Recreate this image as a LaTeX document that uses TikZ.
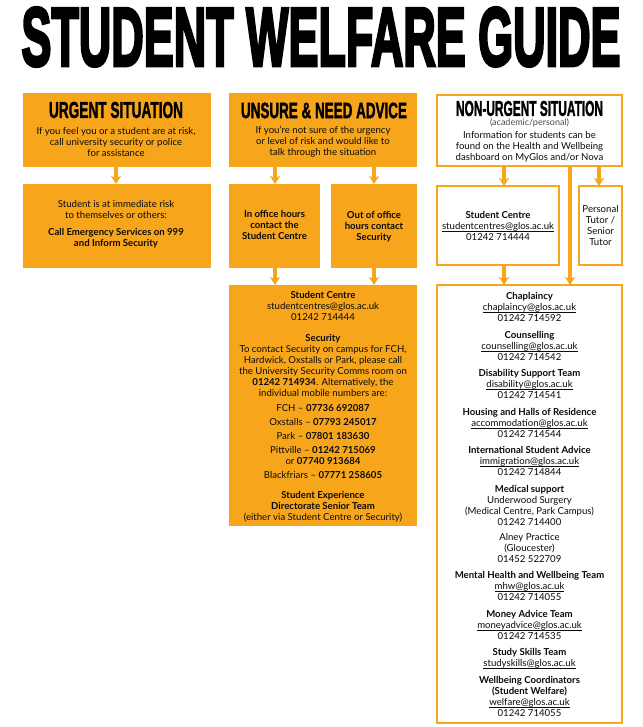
\documentclass[tikz,border=0pt]{standalone}
\usepackage{fontspec}
\usepackage{graphicx}
\setmainfont{Lato}
\newfontfamily\headfont{Liberation Sans}[BoldFeatures={FakeBold=2}]
\newfontfamily\titlefont{Liberation Sans}[BoldFeatures={FakeBold=4}]
\usetikzlibrary{arrows.meta}
\definecolor{wgorange}{RGB}{247,166,28}
\definecolor{wgtext}{RGB}{10,10,10}
\newcommand{\ulmail}[1]{\setbox0\hbox{#1}\rlap{\rule[-2.2pt]{\wd0}{0.6pt}}\box0}
\newcommand{\headtxt}[3]{\resizebox{#1}{#2}{\headfont\bfseries #3}}
\tikzset{
  fillbox/.style={fill=wgorange, draw=none, inner sep=0pt, outer sep=0pt},
  linebox/.style={draw=wgorange, line width=1.6pt, fill=white, inner sep=0pt, outer sep=0pt},
  flow/.style={draw=wgorange, line width=3.6pt, -{Stealth[length=8pt,width=10pt,inset=2pt]}},
  body/.style={text=wgtext, inner sep=0pt, align=center, font=\fontsize{9.6}{11}\selectfont},
  small/.style={text=black!70, inner sep=0pt, align=center, font=\fontsize{9}{9}\selectfont},
  head/.style={text=black, inner sep=0pt, outer sep=0pt},
}
\begin{document}
\lineskiplimit=-20pt\relax
\begin{tikzpicture}[x=1pt,y=-1pt]
\useasboundingbox (0,0) rectangle (642,727);
\fill[white] (0,0) rectangle (642,727);

% title
\node[head] (title) at (321,37) {\resizebox{599pt}{58pt}{\titlefont\bfseries STUDENT WELFARE GUIDE}};

% boxes
\node[fillbox, minimum width=188pt, minimum height=74pt] (urgHead) at (117,130) {};
\node[fillbox, minimum width=188pt, minimum height=84pt] (urgBox) at (117,226) {};
\node[fillbox, minimum width=188pt, minimum height=74pt] (unsHead) at (323,130) {};
\node[fillbox, minimum width=91pt, minimum height=84pt] (inOff) at (274.5,226) {};
\node[fillbox, minimum width=86pt, minimum height=84pt] (outOff) at (374,226) {};
\node[fillbox, minimum width=188pt, minimum height=241pt] (col2Bot) at (323,405.5) {};
\node[linebox, minimum width=185pt, minimum height=71pt] (nonHead) at (529.5,130.5) {};
\node[linebox, minimum width=122pt, minimum height=79pt] (scBox) at (498,225.5) {};
\node[linebox, minimum width=43pt, minimum height=79pt] (ptBox) at (600.5,225.5) {};
\node[linebox, minimum width=185pt, minimum height=438pt] (rightBot) at (529.5,504) {};

% connectors
\coordinate (xa) at (116,0);
\coordinate (xb) at (275,0);
\coordinate (xc) at (374,0);
\coordinate (xd) at (504,0);
\coordinate (xe) at (570,0);
\coordinate (xf) at (599,0);
\draw[flow] (urgHead.south -| xa) -- (urgBox.north -| xa);
\draw[flow] (unsHead.south -| xb) -- (inOff.north -| xb);
\draw[flow] (unsHead.south -| xc) -- (outOff.north -| xc);
\draw[flow] (inOff.south -| xb) -- (col2Bot.north -| xb);
\draw[flow] (outOff.south -| xc) -- (col2Bot.north -| xc);
\draw[flow] (nonHead.south -| xd) -- (scBox.north -| xd);
\draw[flow] (nonHead.south -| xf) -- (ptBox.north -| xf);
\draw[flow] (nonHead.south -| xe) -- (rightBot.north -| xe);
\draw[flow] (scBox.south -| xd) -- (rightBot.north -| xd);

% headings
\node[head] (urgTitle) at (116,110) {\headtxt{134pt}{16pt}{URGENT SITUATION}};
\node[head] (unsTitle) at (324,110.5) {\headtxt{166pt}{15.5pt}{UNSURE \& NEED ADVICE}};
\node[head] (nonTitle) at (529.5,108.5) {\headtxt{147pt}{15pt}{NON-URGENT SITUATION}};

% subtitles
\node[body, anchor=north] (urgSub) at (116,127.5) {If you feel you or a student are at risk,\\ call university security or police\\ for assistance};
\node[body, anchor=north] (unsSub) at (323,125.5) {If you’re not sure of the urgency\\ or level of risk and would like to\\ talk through the situation};
\node[small, anchor=north] (nonSmall) at (529.5,118.8) {(academic/personal)};
\node[body, anchor=north] (nonSub) at (529.5,131) {Information for students can be\\ found on the Health and Wellbeing\\ dashboard on MyGlos and/or Nova};

% box texts
\node[body, anchor=north] (urgTxt) at (116,200.5) {Student is at immediate risk\\ to themselves or others:\\[6pt] \textbf{Call Emergency Services on 999}\\ \textbf{and Inform Security}};
\node[body, font=\fontsize{9.6}{11}\selectfont\bfseries] (inOffTxt) at (274.5,225) {In office hours\\ contact the\\ Student Centre};
\node[body, font=\fontsize{9.6}{11}\selectfont\bfseries] (outOffTxt) at (374,227) {Out of office\\ hours contact\\ Security};
\node[body] (scTxt) at (498,225.5) {\textbf{Student Centre}\\ \ulmail{studentcentres@glos.ac.uk}\\ 01242 714444};
\node[body] (ptTxt) at (600.5,226) {Personal\\ Tutor /\\ Senior\\ Tutor};

\node[body, anchor=north] (col2Txt) at (323,291.5) {\textbf{Student Centre}\\
studentcentres@glos.ac.uk\\
01242 714444\\[10pt]
\textbf{Security}\\
To contact Security on campus for FCH,\\
Hardwick, Oxstalls or Park, please call\\
the University Security Comms room on\\
\textbf{01242 714934}. Alternatively, the\\
individual mobile numbers are:\\[4pt]
FCH – \textbf{07736 692087}\\[3pt]
Oxstalls – \textbf{07793 245017}\\[3pt]
Park – \textbf{07801 183630}\\[3pt]
Pittville – \textbf{01242 715069}\\
or \textbf{07740 913684}\\[3pt]
Blackfriars – \textbf{07771 258605}\\[9pt]
\textbf{Student Experience}\\
\textbf{Directorate Senior Team}\\
(either via Student Centre or Security)};

\node[body, anchor=north] (rightTxt) at (529.5,292.5) {\textbf{Chaplaincy}\\
\ulmail{chaplaincy@glos.ac.uk}\\
01242 714592\\[5.5pt]
\textbf{Counselling}\\
\ulmail{counselling@glos.ac.uk}\\
01242 714542\\[5.5pt]
\textbf{Disability Support Team}\\
\ulmail{disability@glos.ac.uk}\\
01242 714541\\[5.5pt]
\textbf{Housing and Halls of Residence}\\
\ulmail{accommodation@glos.ac.uk}\\
01242 714544\\[5.5pt]
\textbf{International Student Advice}\\
\ulmail{immigration@glos.ac.uk}\\
01242 714844\\[5.5pt]
\textbf{Medical support}\\
Underwood Surgery\\
(Medical Centre, Park Campus)\\
01242 714400\\[4pt]
Alney Practice\\
(Gloucester)\\
01452 522709\\[5.5pt]
\textbf{Mental Health and Wellbeing Team}\\
\ulmail{mhw@glos.ac.uk}\\
01242 714055\\[5.5pt]
\textbf{Money Advice Team}\\
\ulmail{moneyadvice@glos.ac.uk}\\
01242 714535\\[5.5pt]
\textbf{Study Skills Team}\\
\ulmail{studyskills@glos.ac.uk}\\[5.5pt]
\textbf{Wellbeing Coordinators}\\
\textbf{(Student Welfare)}\\
\ulmail{welfare@glos.ac.uk}\\
01242 714055};
\end{tikzpicture}
\end{document}
